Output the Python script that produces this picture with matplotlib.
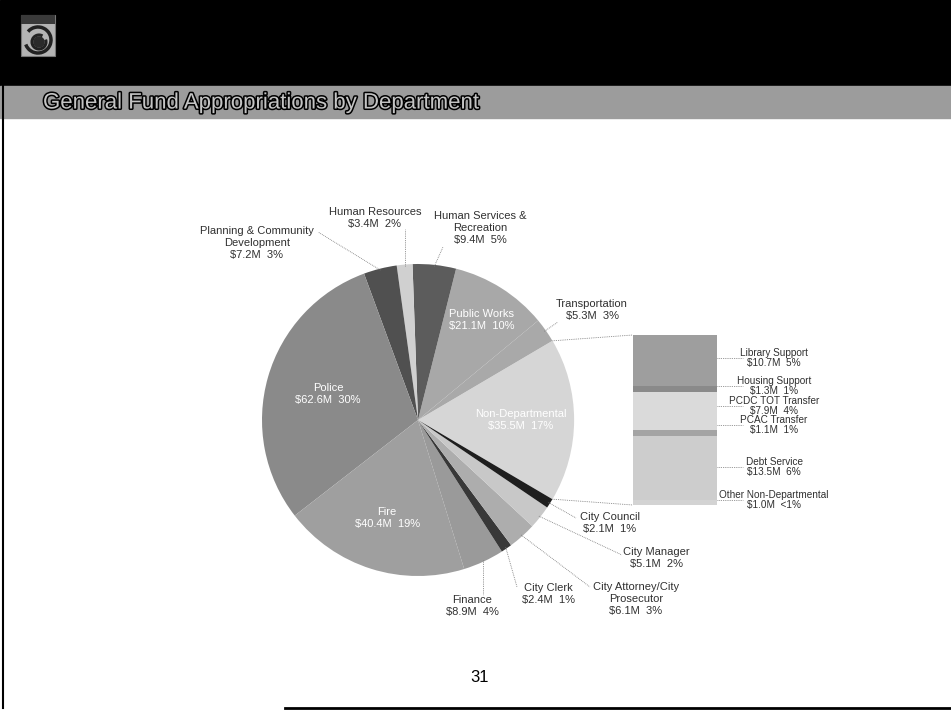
import numpy as np
import matplotlib.pyplot as plt
import matplotlib.patheffects as pe
from matplotlib.patches import Rectangle, Arc, Wedge

plt.rcParams['font.family'] = ['Liberation Sans', 'DejaVu Sans']

W, H = 951, 713

# Departments in pie order (counter-clockwise, starting with the split-out slice)
departments = ["Non-Departmental", "Transportation", "Public Works",
               "Human Services &\nRecreation", "Human Resources",
               "Planning & Community\nDevelopment", "Police", "Fire", "Finance",
               "City Clerk", "City Attorney/City\nProsecutor", "City Manager",
               "City Council"]
dept_amounts = [5.3, 21.1, 9.4, 3.4, 7.2, 62.6, 40.4, 8.9, 2.4, 6.1, 5.1, 2.1]
dept_pcts = ["17%", "3%", "10%", "5%", "2%", "3%", "30%", "19%", "4%",
             "1%", "3%", "2%", "1%"]

# Breakdown of the non-departmental slice (top to bottom of the bar)
nondept_items = ["Library Support", "Housing Support", "PCDC TOT Transfer",
                 "PCAC Transfer", "Debt Service", "Other Non-Departmental"]
nondept_amounts = [10.7, 1.3, 7.9, 1.1, 13.5, 1.0]
nondept_pcts = ["5%", "1%", "4%", "1%", "6%", "<1%"]

amounts = [sum(nondept_amounts)] + dept_amounts

pie_colors = ["#d6d6d6", "#a9a9a9", "#a8a8a8", "#5c5c5c", "#d0d0d0", "#505050",
              "#8a8a8a", "#9f9f9f", "#9a9a9a", "#383838", "#adadad", "#c8c8c8",
              "#1e1e1e"]
bar_colors = ["#9e9e9e", "#8a8a8a", "#dadada", "#a4a4a4", "#cdcdcd", "#d3d3d3"]


def sy(y):
    return H - y


def money(v):
    return f"${v:.1f}M  "


fig = plt.figure(figsize=(W / 100, H / 100), dpi=100)
ax = fig.add_axes([0, 0, 1, 1])

# slide frame: black header, grey title band, borders
ax.add_patch(Rectangle((0, sy(86)), W, 86, color="black", zorder=0))
ax.add_patch(Rectangle((0, sy(118)), W, 32, color="#9c9c9c", zorder=0))
ax.plot([3, 3], [sy(86), sy(708)], color="black", lw=1.5)
ax.plot([285, W], [sy(708), sy(708)], color="black", lw=2)

# logo
ax.add_patch(Rectangle((21, sy(56)), 34, 41, facecolor="#b4b4b4",
                       edgecolor="#777777", lw=0.8, zorder=2))
ax.add_patch(Rectangle((21, sy(24)), 34, 9, facecolor="#3a3a3a", lw=0, zorder=3))
ax.add_patch(Arc((38, sy(40)), 26, 26, theta1=200, theta2=500, color="#222222", lw=2.5, zorder=4))
ax.add_patch(Arc((39, sy(42)), 14, 14, theta1=60, theta2=380, color="#222222", lw=2.2, zorder=4))
ax.add_patch(Wedge((39, sy(42)), 5, 0, 360, color="#2a2a2a", zorder=4))

ax.text(43, sy(103), "General Fund Appropriations by Department", fontsize=16,
        color="#c4c4c4", va="center", ha="left",
        path_effects=[pe.withStroke(linewidth=2.2, foreground="black")])

# main pie
cx, cy, r = 418, sy(420), 156
total = sum(amounts)
start = -180 * amounts[0] / total
explode = [0.12] + [0] * len(dept_amounts)
wedges, _ = ax.pie(amounts, colors=pie_colors, startangle=start, counterclock=True,
                   center=(cx, cy), radius=r, explode=explode, frame=True,
                   wedgeprops=dict(linewidth=0))

lab_kw = dict(fontsize=8, color="#303030", ha="center", va="center", linespacing=1.3)
in_kw = dict(fontsize=8, color="white", ha="center", va="center", linespacing=1.3)
lead_kw = dict(color="#777777", lw=0.6, ls=(0, (1, 1.2)))


def rim(i, frac=1.0):
    w = wedges[i]
    mid = np.deg2rad((w.theta1 + w.theta2) / 2)
    return w.center[0] + w.r * frac * np.cos(mid), w.center[1] + w.r * frac * np.sin(mid)


# labels inside the big slices (fraction of radius along the slice middle)
inside = {0: 0.66, 2: 0.76, 6: 0.6, 7: 0.66}
for i, frac in inside.items():
    tx, ty = rim(i, frac)
    ax.text(tx, ty, departments[i] + "\n" + money(amounts[i]) + dept_pcts[i], **in_kw)

# outside labels: text centre, leader end
outside = {
    1: ((592, 310), (558, 322)),
    3: ((480, 228), (443, 247)),
    4: ((375, 218), (None, 229)),
    5: ((257, 243), (318, 232)),
    8: ((472, 606), (None, 595)),
    9: ((548, 594), (517, 587)),
    10: ((636, 599), (590, 587)),
    11: ((656, 558), (622, 555)),
    12: ((610, 523), (576, 518)),
}
for i, ((tx, ty), (lx, ly)) in outside.items():
    ax.text(tx, sy(ty), departments[i] + "\n" + money(amounts[i]) + dept_pcts[i], **lab_kw)
    ax_, ay_ = rim(i, 0.99)
    if lx is None:
        lx = ax_
    ax.plot([ax_, lx], [ay_, sy(ly)], **lead_kw)

# bar of the non-departmental breakdown
bar_x, bar_w = 675, 84
bar_bottom, bar_top = sy(505), sy(335)
scale = (bar_top - bar_bottom) / sum(nondept_amounts)
heights = np.array(nondept_amounts[::-1]) * scale
bottoms = bar_bottom + np.concatenate([[0], np.cumsum(heights)[:-1]])
ax.bar(bar_x, heights, width=bar_w, bottom=bottoms, color=bar_colors[::-1], linewidth=0)

bar_kw = dict(lab_kw, fontsize=7.2, linespacing=1.1)
text_y = [358, 386, 406, 425, 467, 500]
for name, v, p, ty in zip(nondept_items, nondept_amounts, nondept_pcts, text_y):
    ax.plot([bar_x + bar_w / 2, bar_x + bar_w / 2 + 26], [sy(ty), sy(ty)], **lead_kw)
    ax.text(774, sy(ty), name + "\n" + money(v) + p, **bar_kw)

# connectors from the split slice to the bar
w0 = wedges[0]
for ang, by in [(w0.theta2, bar_top), (w0.theta1, bar_bottom)]:
    px = w0.center[0] + w0.r * np.cos(np.deg2rad(ang))
    py = w0.center[1] + w0.r * np.sin(np.deg2rad(ang))
    ax.plot([px, bar_x - bar_w / 2], [py, by], **lead_kw)

ax.text(480, sy(678), "31", fontsize=12, color="black", ha="center", va="center")

ax.set_xlim(0, W)
ax.set_ylim(0, H)
ax.set_aspect("equal")
ax.axis("off")

fig.savefig("out.png", dpi=100)
